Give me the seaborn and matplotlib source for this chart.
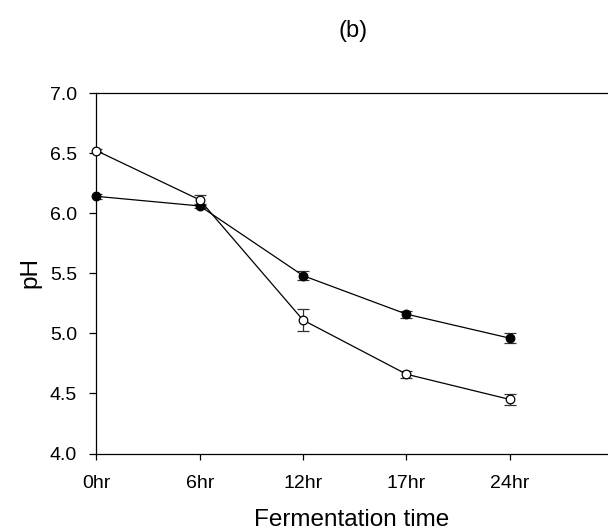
import numpy as np
import pandas as pd
import matplotlib
matplotlib.use("Agg")
import matplotlib.pyplot as plt
import seaborn as sns

sns.set_style("ticks")
plt.rcParams["font.family"] = ["Liberation Sans", "DejaVu Sans"]
plt.rcParams["text.color"] = "black"

# Fermentation time points
times = ["0hr", "6hr", "12hr", "17hr", "24hr"]

# pH means and standard deviations for the two treatments
ph_filled = [6.14, 6.06, 5.48, 5.16, 4.96]
err_filled = [0.02, 0.02, 0.04, 0.03, 0.04]
ph_open = [6.52, 6.11, 5.11, 4.66, 4.45]
err_open = [0.01, 0.04, 0.09, 0.03, 0.045]

pos = np.arange(len(times))
df = pd.DataFrame({
    "pos": np.concatenate([pos, pos]),
    "pH": ph_filled + ph_open,
    "err": err_filled + err_open,
    "group": ["filled"] * len(times) + ["open"] * len(times),
})

fig = plt.figure(figsize=(6.08, 5.31), dpi=100)
W, H = 608, 531
left, right, top, bottom = 96.5, 612, 93, 453.5
ax = fig.add_axes([left / W, 1 - bottom / H, (right - left) / W, (bottom - top) / H])

for grp, face in [("filled", "black"), ("open", "white")]:
    d = df[df["group"] == grp]
    ax.errorbar(d["pos"], d["pH"], yerr=d["err"], fmt="none", ecolor="#333333",
                elinewidth=0.9, capsize=4.5, capthick=0.9, zorder=2)
    sns.lineplot(data=d, x="pos", y="pH", ax=ax, color="black", linewidth=0.9,
                 marker="o", markersize=6.2, markerfacecolor=face,
                 markeredgecolor="black", markeredgewidth=0.9, zorder=3,
                 clip_on=False)

px_per_unit = 103.3
ax.set_xlim(0, (right - left) / px_per_unit)
ax.set_ylim(4.0, 7.0)
yt = np.arange(4.0, 7.01, 0.5)
ax.set_yticks(yt)
ax.set_yticklabels([f"{v:.1f}" for v in yt])
ax.set_xticks(pos)
ax.set_xticklabels(times)

for s in ["left", "top", "bottom"]:
    ax.spines[s].set_color("black")
    ax.spines[s].set_linewidth(0.9)
ax.spines["right"].set_visible(False)

ax.tick_params(axis="y", direction="out", length=5, width=0.9, pad=9, labelsize=14, colors="black")
ax.tick_params(axis="x", direction="out", length=4.5, width=0.9, pad=11, labelsize=14, colors="black")

ax.set_xlabel("")
ax.set_ylabel("")
fig.text(352 / W, 1 - 526.5 / H, "Fermentation time", ha="center", va="baseline", fontsize=17.5)
fig.text(30 / W, 1 - 273 / H, "pH", ha="center", va="center", rotation=90, fontsize=17.5)
fig.text(353 / W, 1 - 37 / H, "(b)", ha="center", va="baseline", fontsize=17)

fig.savefig("out.png", dpi=100)
